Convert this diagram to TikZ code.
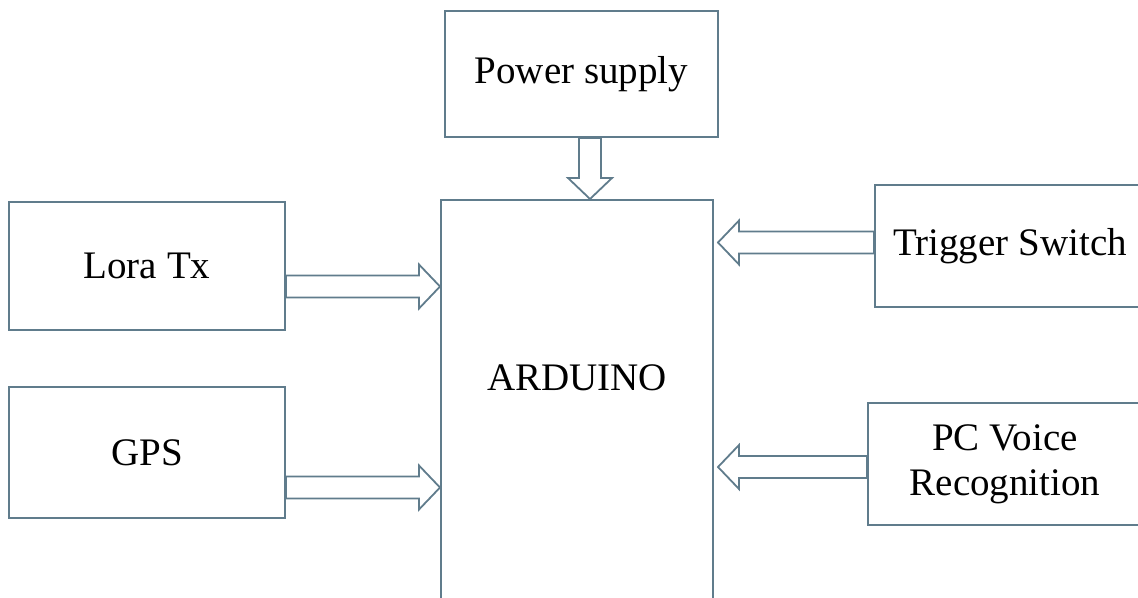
\documentclass[tikz,border=0pt]{standalone}
\usepackage{fontspec}
\setmainfont{Liberation Serif}
\usepackage{xcolor}
\usepackage{tikz}
\usetikzlibrary{calc}

\definecolor{edgecol}{RGB}{96,124,140}

% hollow block arrow from #1 (tail) to #2 (tip)
\def\shafthw{5.5pt}  % half-width, shaft
\def\headhw{11pt}    % half-width, head
\def\headlen{10.5pt} % head length
\newcommand{\blockarrow}[2]{%
  \draw[hollow] let \p1=(#1), \p2=(#2),
      \n1={atan2(\y2-\y1,\x2-\x1)}, \n2={veclen(\x2-\x1,\y2-\y1)} in
    [shift={(\p1)}, rotate=\n1]
    (0pt,\shafthw) -- ({\n2*1pt-\headlen},\shafthw) -- ({\n2*1pt-\headlen},\headhw)
    -- ({\n2*1pt},0pt) -- ({\n2*1pt-\headlen},-\headhw) -- ({\n2*1pt-\headlen},-\shafthw)
    -- (0pt,-\shafthw) -- cycle;}

\begin{document}
\begin{tikzpicture}[
    x=0.5pt, y=-0.5pt,
    block/.style={draw=edgecol, line width=1pt, rectangle, inner sep=0pt,
        align=center, font=\fontsize{19.5}{22.5}\selectfont},
    hollow/.style={draw=edgecol, line width=0.9pt, line join=miter, fill=white},
]
\useasboundingbox (0,0) rectangle (1138,598);

%------------------------------------------------------------
% blocks
%------------------------------------------------------------
\node[block, minimum width=136.5pt, minimum height=63pt] (power) at (581.5,74) {Power supply};
\node[block, minimum width=138pt, minimum height=64pt] (lora) at (147,266) {Lora Tx};
\node[block, minimum width=138pt, minimum height=65.5pt] (gps) at (147,452.5) {GPS};

% controller: runs off the bottom edge
\node[block, minimum width=136pt, text height=95pt, text depth=130pt, anchor=base]
    (ard) at (577,390) {ARDUINO};

% inputs on the right: run off the right edge
\node[block, minimum width=135pt, minimum height=61pt] (trig) at (1010,246) {Trigger Switch};
\node[block, minimum width=137pt, minimum height=61pt] (pc) at (1005,464) {PC Voice\\Recognition};

%------------------------------------------------------------
% arrow tails
%------------------------------------------------------------
\coordinate (power-o) at (power.south -| 590,0);
\coordinate (lora-o)  at (lora.east |- 0,286.5);
\coordinate (gps-o)   at (gps.east |- 0,487.5);
\coordinate (trig-o)  at (trig.west |- 0,242.5);
\coordinate (pc-o)    at (pc.west |- 0,467);

%------------------------------------------------------------
% block arrows into the controller
%------------------------------------------------------------
\blockarrow{power-o}{power-o |- ard.north}
\blockarrow{lora-o}{lora-o -| ard.west}
\blockarrow{gps-o}{gps-o -| ard.west}
\blockarrow{trig-o}{$(trig-o -| ard.east)+(4,0)$}
\blockarrow{pc-o}{$(pc-o -| ard.east)+(4,0)$}

\end{tikzpicture}
\end{document}
